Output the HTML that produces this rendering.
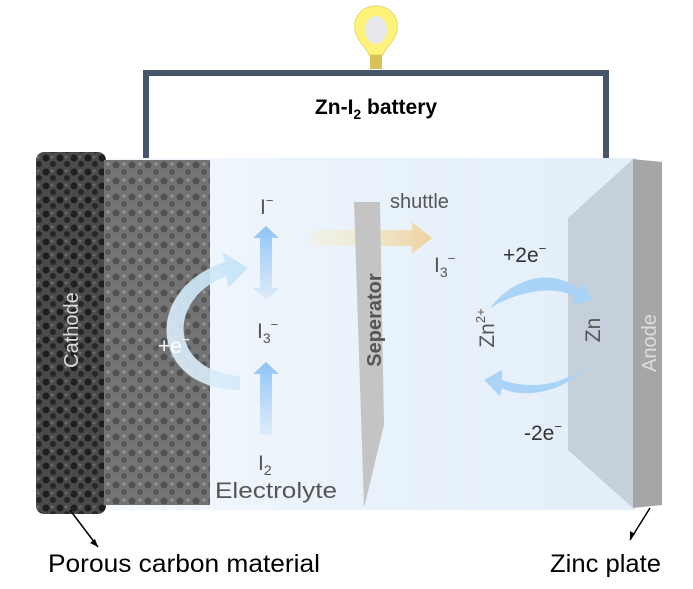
<!DOCTYPE html>
<html><head><meta charset="utf-8"><style>
html,body{margin:0;padding:0;background:#fff;}
svg{display:block;font-family:"Liberation Sans",Arial,sans-serif;}
</style></head><body>
<svg width="693" height="589" viewBox="0 0 693 589" xmlns="http://www.w3.org/2000/svg">
<defs>
<linearGradient id="box" x1="0" y1="0" x2="1" y2="0">
<stop offset="0" stop-color="#f4f8fc"/><stop offset="0.5" stop-color="#e9f2fb"/><stop offset="1" stop-color="#e3eef9"/>
</linearGradient>
<linearGradient id="sh" x1="0" y1="0" x2="1" y2="0">
<stop offset="0" stop-color="#f7efc8" stop-opacity="0.3"/><stop offset="1" stop-color="#f0d2a0"/>
</linearGradient>
<linearGradient id="up" x1="0" y1="1" x2="0" y2="0">
<stop offset="0" stop-color="#9ccaf5" stop-opacity="0.2"/><stop offset="1" stop-color="#8ec3f5"/>
</linearGradient>
<linearGradient id="arc" x1="0" y1="1" x2="1" y2="0">
<stop offset="0" stop-color="#e4f0fa"/><stop offset="1" stop-color="#bfe3f8"/>
</linearGradient>
<pattern id="foam" width="14" height="14" patternUnits="userSpaceOnUse">
<rect width="14" height="14" fill="#4a4a4a"/>
<circle cx="4" cy="4" r="3.5" fill="#1e1e1e"/><circle cx="11" cy="10" r="3" fill="#262626"/><circle cx="10" cy="3" r="1.5" fill="#6a6a6a"/>
</pattern>
<pattern id="foam2" width="16" height="16" patternUnits="userSpaceOnUse">
<rect width="16" height="16" fill="#747474"/>
<circle cx="4" cy="5" r="3.5" fill="#525252"/><circle cx="12" cy="12" r="3" fill="#585858"/><circle cx="12" cy="4" r="1.5" fill="#9a9a9a"/>
</pattern>
</defs>
<path d="M146 160 V73 H606 V180" fill="none" stroke="#46556a" stroke-width="6"/>
<path d="M376 6 C362 6 353 17 355 30 C357 42 366 46 369 55 H383 C386 46 395 42 397 30 C399 17 390 6 376 6 Z" fill="#fdf27a" stroke="#e8d860"/>
<ellipse cx="376" cy="30" rx="11" ry="14" fill="#e8e8ee"/>
<rect x="370" y="55" width="12" height="14" fill="#d9c25a"/>
<text x="376" y="114" font-size="21" font-weight="bold" text-anchor="middle" fill="#000">Zn-I<tspan font-size="14" dy="5">2</tspan><tspan dy="-5"> battery</tspan></text>
<rect x="100" y="158" width="535" height="352" fill="url(#box)"/>
<rect x="36" y="152" width="70" height="362" rx="8" fill="url(#foam)"/>
<rect x="104" y="160" width="106" height="345" fill="url(#foam2)"/>
<text transform="translate(78,330) rotate(-90)" font-size="20" fill="#ddd" text-anchor="middle">Cathode</text>
<path d="M240 390 C150 390 140 290 225 262 L222 252 L248 268 L228 288 L226 276 C165 300 170 372 240 376 Z" fill="url(#arc)" opacity="0.9"/>
<text x="158" y="353" font-size="21" fill="#fff">+e<tspan font-size="13" dy="-9">−</tspan></text>
<path d="M266 226 L279 238 H272 V288 H279 L266 300 L253 288 H260 V238 H253 Z" fill="url(#up)"/>
<path d="M266 362 L279 374 H272 V435 H260 V374 H253 Z" fill="url(#up)"/>
<text x="260" y="214" font-size="21" fill="#555">I<tspan font-size="13" dy="-9">−</tspan></text>
<text x="257" y="338" font-size="21" fill="#555">I<tspan font-size="14" dy="5">3</tspan><tspan font-size="13" dy="-14">−</tspan></text>
<text x="258" y="470" font-size="21" fill="#555">I<tspan font-size="14" dy="5">2</tspan></text>
<text x="215" y="498" font-size="22" fill="#555" textLength="122" lengthAdjust="spacingAndGlyphs">Electrolyte</text>
<path d="M310 230 H412 V222 L432 238 L412 254 V246 H310 Z" fill="url(#sh)"/>
<text x="390" y="208" font-size="20" fill="#555">shuttle</text>
<text x="434" y="272" font-size="21" fill="#555">I<tspan font-size="14" dy="5">3</tspan><tspan font-size="13" dy="-14">−</tspan></text>
<path d="M354 202 L380 202 L384 425 L364 508 Z" fill="#c4c4c4"/>
<text transform="translate(381,320) rotate(-90)" font-size="20" font-weight="bold" fill="#555" text-anchor="middle">Seperator</text>
<path d="M568 218 L633 159 L633 508 L568 450 Z" fill="#c6d0da"/>
<path d="M633 159 L662 162 L662 505 L633 508 Z" fill="#a6a6a6"/>
<text transform="translate(656,343) rotate(-90)" font-size="20" fill="#ddd" text-anchor="middle">Anode</text>
<text transform="translate(600,330) rotate(-90)" font-size="21" fill="#555" text-anchor="middle">Zn</text>
<text transform="translate(494,328) rotate(-90)" font-size="21" fill="#555" text-anchor="middle">Zn<tspan font-size="13" dy="-9">2+</tspan></text>
<path d="M490 308 C520 270 560 272 580 290 L583 282 L592 300 L572 305 L576 297 C555 285 520 290 490 308 Z" fill="#a9d3f7"/>
<path d="M585 368 C560 395 520 398 502 388 L500 396 L484 380 L502 370 L502 380 C530 390 560 385 585 368 Z" fill="#a9d3f7"/>
<text x="503" y="262" font-size="21" fill="#333">+2e<tspan font-size="13" dy="-9">−</tspan></text>
<text x="524" y="440" font-size="21" fill="#333">-2e<tspan font-size="13" dy="-9">−</tspan></text>
<line x1="70" y1="510" x2="98" y2="547" stroke="#000" stroke-width="1.5"/>
<path d="M98 547 L90 543 L95 539 Z" fill="#000"/>
<line x1="650" y1="508" x2="630" y2="540" stroke="#000" stroke-width="1.5"/>
<path d="M630 540 L630 531 L635 534 Z" fill="#000"/>
<text x="48" y="572" font-size="25" fill="#000" textLength="272" lengthAdjust="spacingAndGlyphs">Porous carbon material</text>
<text x="550" y="572" font-size="25" fill="#000" textLength="111" lengthAdjust="spacingAndGlyphs">Zinc plate</text>
</svg>
</body></html>
